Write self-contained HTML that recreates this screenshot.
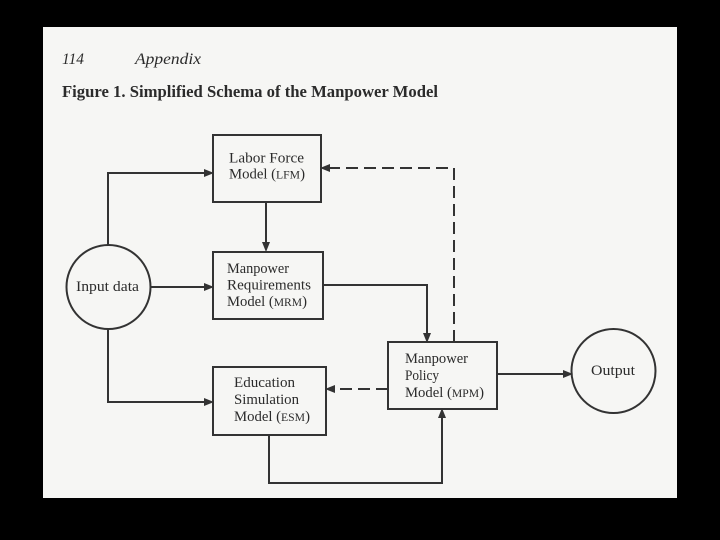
<!DOCTYPE html>
<html><head><meta charset="utf-8"><style>
html,body{margin:0;padding:0;background:#000;}
svg{display:block;}
</style></head><body>
<svg width="720" height="540" viewBox="0 0 720 540" xmlns="http://www.w3.org/2000/svg">
<rect x="0" y="0" width="720" height="540" fill="#000"/>
<rect x="43" y="27" width="634" height="471" fill="#f6f6f4"/>
<g font-family="Liberation Serif, serif" fill="#2b2b2b">
<text x="62" y="64" font-size="15.5" font-style="italic" textLength="22" lengthAdjust="spacingAndGlyphs">114</text>
<text x="135" y="64" font-size="15.5" font-style="italic" textLength="66" lengthAdjust="spacingAndGlyphs">Appendix</text>
<text x="62" y="97" font-size="16.5" font-weight="bold" textLength="376" lengthAdjust="spacingAndGlyphs">Figure 1.  Simplified Schema of the Manpower Model</text>
</g>
<g stroke="#333" stroke-width="2" fill="none">
<rect x="213" y="135" width="108" height="67"/>
<rect x="213" y="252" width="110" height="67"/>
<rect x="388" y="342" width="109" height="67"/>
<rect x="213" y="367" width="113" height="68"/>
<circle cx="108.5" cy="287" r="42"/>
<circle cx="613.5" cy="371" r="42"/>
<path d="M108,245 V173 H206"/>
<path d="M266,202 V244"/>
<path d="M150,287 H206"/>
<path d="M108,329 V402 H206"/>
<path d="M323,285 H427 V335"/>
<path d="M497,374 H565"/>
<path d="M269,435 V483 H442 V416"/>
<path d="M454,342 V168 H328" stroke-dasharray="12 6"/>
<path d="M388,389 H333" stroke-dasharray="12 6"/>
</g>
<g fill="#333">
<polygon points="214,173 204,169 204,177"/>
<polygon points="266,252 262,242 270,242"/>
<polygon points="214,287 204,283 204,291"/>
<polygon points="214,402 204,398 204,406"/>
<polygon points="427,343 423,333 431,333"/>
<polygon points="573,374 563,370 563,378"/>
<polygon points="442,408 438,418 446,418"/>
<polygon points="320,168 330,164 330,172"/>
<polygon points="325,389 335,385 335,393"/>
</g>
<g font-family="Liberation Serif, serif" fill="#2b2b2b" font-size="14.5">
<text x="229" y="162.5" textLength="75" lengthAdjust="spacingAndGlyphs">Labor Force</text>
<text x="229" y="178.5" textLength="76" lengthAdjust="spacingAndGlyphs">Model (<tspan font-size="11.5">LFM</tspan>)</text>
<text x="227" y="273" textLength="62" lengthAdjust="spacingAndGlyphs">Manpower</text>
<text x="227" y="289.5" textLength="84" lengthAdjust="spacingAndGlyphs">Requirements</text>
<text x="227" y="306" textLength="80" lengthAdjust="spacingAndGlyphs">Model (<tspan font-size="11.5">MRM</tspan>)</text>
<text x="405" y="363" textLength="63" lengthAdjust="spacingAndGlyphs">Manpower</text>
<text x="405" y="380" textLength="34" lengthAdjust="spacingAndGlyphs">Policy</text>
<text x="405" y="397" textLength="79" lengthAdjust="spacingAndGlyphs">Model (<tspan font-size="11.5">MPM</tspan>)</text>
<text x="234" y="387" textLength="61" lengthAdjust="spacingAndGlyphs">Education</text>
<text x="234" y="404" textLength="65" lengthAdjust="spacingAndGlyphs">Simulation</text>
<text x="234" y="421" textLength="76" lengthAdjust="spacingAndGlyphs">Model (<tspan font-size="11.5">ESM</tspan>)</text>
<text x="76" y="291" textLength="63" lengthAdjust="spacingAndGlyphs">Input data</text>
<text x="591" y="375" textLength="44" lengthAdjust="spacingAndGlyphs">Output</text>
</g>
</svg>
</body></html>
